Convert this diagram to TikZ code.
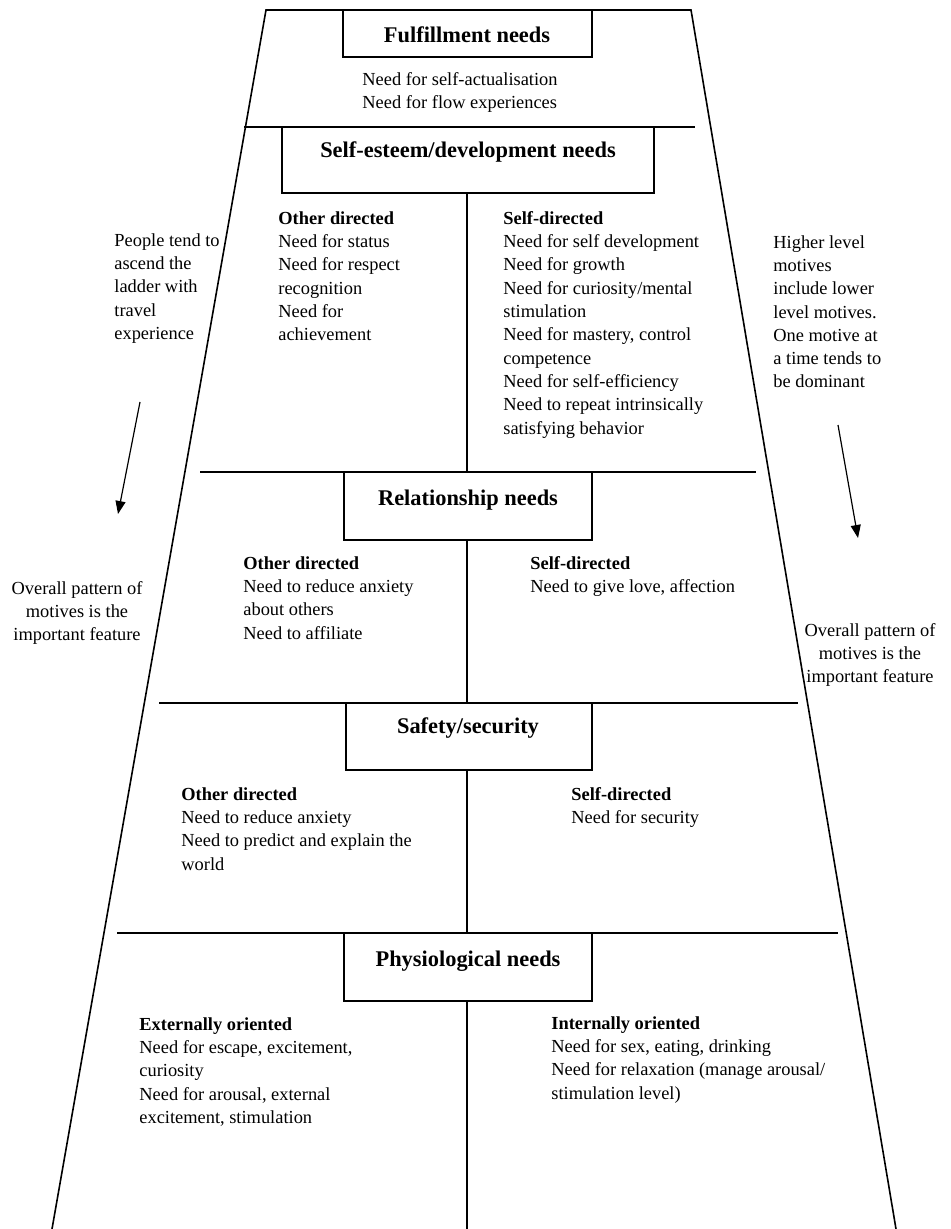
\documentclass[tikz,border=0pt]{standalone}
\usepackage{fontspec}
\setmainfont{Liberation Serif}
\usetikzlibrary{arrows.meta}
\begin{document}
\begin{tikzpicture}[x=0.5pt,y=-0.5pt,
        frame/.style={line width=0.8pt},
        rung/.style={line width=0.9pt},
        levelbox/.style={line width=0.9pt},
        levelname/.style={font=\fontsize{11.2}{13}\selectfont\bfseries},
        needs/.style={font=\fontsize{9.2}{11.65}\selectfont, align=left, anchor=north west, inner sep=0pt},
        aside/.style={font=\fontsize{9.2}{11.65}\selectfont, align=center, anchor=north, inner sep=0pt},
        trend/.style={line width=0.6pt, -{Triangle[width=5pt,length=6.5pt]}}]
        \useasboundingbox (0,0) rectangle (950,1229);
        % Ladder outline
        \draw[frame] (52,1229) -- (266,10) -- (691,10) -- (896,1229);
        % Fulfillment needs
        \draw[levelbox] (343,10) rectangle (592,57);
        \node[levelname] (fulfil) at (467,35) {Fulfillment needs};
        \node[needs] (fulfilN) at (362,72) {Need for self-actualisation\\Need for flow experiences};
        \draw[rung] (244,127) -- (695,127);
        % Self-esteem/development needs
        \draw[levelbox] (282,127) rectangle (654,193);
        \node[levelname] (esteem) at (468,152) {Self-esteem/development needs};
        \draw[rung] (467,193) -- (467,472);
        \node[needs] (esteemL) at (278,211) {\textbf{Other directed}\\Need for status\\Need for respect\\recognition\\Need for\\achievement};
        \node[needs] (esteemR) at (503,211) {\textbf{Self-directed}\\Need for self development\\Need for growth\\Need for curiosity/mental\\stimulation\\Need for mastery, control\\competence\\Need for self-efficiency\\Need to repeat intrinsically\\satisfying behavior};
        \draw[rung] (200,472) -- (756,472);
        % Relationship needs
        \draw[levelbox] (344,472) rectangle (592,540);
        \node[levelname] (relation) at (468,500) {Relationship needs};
        \draw[rung] (467,540) -- (467,703);
        \node[needs] (relationL) at (243,556) {\textbf{Other directed}\\Need to reduce anxiety\\about others\\Need to affiliate};
        \node[needs] (relationR) at (530,556) {\textbf{Self-directed}\\Need to give love, affection};
        \draw[rung] (159,703) -- (798,703);
        % Safety/security
        \draw[levelbox] (346,703) rectangle (592,770);
        \node[levelname] (safety) at (468,728) {Safety/security};
        \draw[rung] (467,770) -- (467,933);
        \node[needs] (safetyL) at (181,787) {\textbf{Other directed}\\Need to reduce anxiety\\Need to predict and explain the\\world};
        \node[needs] (safetyR) at (571,787) {\textbf{Self-directed}\\Need for security};
        \draw[rung] (117,933) -- (838,933);
        % Physiological needs
        \draw[levelbox] (344,933) rectangle (592,1001);
        \node[levelname] (physio) at (468,961) {Physiological needs};
        \draw[rung] (467,1001) -- (467,1229);
        \node[needs] (physioL) at (139,1017) {\textbf{Externally oriented}\\Need for escape, excitement,\\curiosity\\Need for arousal, external\\excitement, stimulation};
        \node[needs] (physioR) at (551,1016) {\textbf{Internally oriented}\\Need for sex, eating, drinking\\Need for relaxation (manage arousal/\\stimulation level)};
        % Side notes
        \node[needs] (ascend) at (114,233) {People tend to\\ascend the\\ladder with\\travel\\experience};
        \node[needs] (higher) at (773,235) {Higher level\\motives\\include lower\\level motives.\\One motive at\\a time tends to\\be dominant};
        \coordinate (ascendA) at (140,402);
        \coordinate (ascendB) at (118,514);
        \draw[trend] (ascendA) -- (ascendB);
        \coordinate (higherA) at (838,425);
        \coordinate (higherB) at (858,538);
        \draw[trend] (higherA) -- (higherB);
        \node[aside] (patternL) at (77,581) {Overall pattern of\\motives is the\\important feature};
        \node[aside] (patternR) at (870,623) {Overall pattern of\\motives is the\\important feature};
\end{tikzpicture}
\end{document}
